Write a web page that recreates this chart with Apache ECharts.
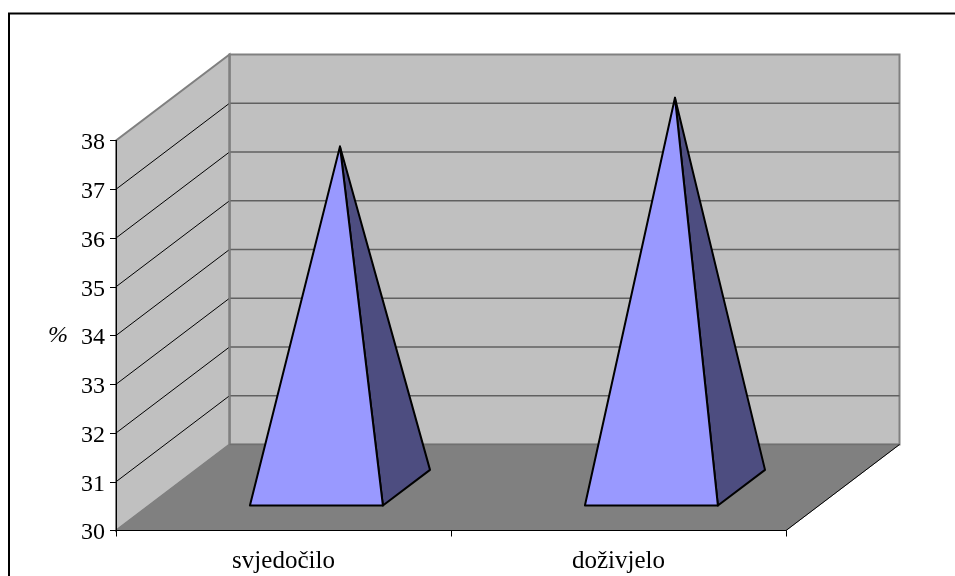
<!DOCTYPE html>
<html>
<head>
<meta charset="utf-8">
<style>html,body{margin:0;padding:0;background:#fff}#c{width:955px;height:576px}</style>
<script src="https://cdn.jsdelivr.net/npm/echarts@6/dist/echarts.min.js"></script>
</head>
<body>
<div id="c"></div>
<script>
const categories = ['svjedočilo', 'doživjelo'];
const values = [37, 38];
const axisMin = 30;
const axisMax = 38;
const yUnit = '%';

const DEPTH_X = 113.5, DEPTH_Y = 86;
const WALL = '#C0C0C0', FLOOR = '#808080', WALL_EDGE = '#808080', GRID_BACK = '#606060';
const FRONT = '#9999FF', SIDE = '#4D4D80';
const FONT = '"Liberation Serif"';
const BASE_WIDTH = 0.397, DEPTH_NEAR = 0.29, DEPTH_FAR = 0.705;

const ticks = [];
for (let v = axisMin; v <= axisMax; v++) ticks.push(v);

function renderRoom(params, api) {
  const cs = params.coordSys;
  const L = cs.x, R = cs.x + cs.width;
  const yB = api.coord([0, axisMin])[1], yT = api.coord([0, axisMax])[1];
  const bL = L + DEPTH_X, bR = R + DEPTH_X;
  const ch = [];
  const poly = (pts, fill, stroke, w) => ch.push({
    type: 'polygon', shape: { points: pts },
    style: { fill: fill, stroke: stroke, lineWidth: w }
  });
  const line = (x1, y1, x2, y2, stroke, w) => ch.push({
    type: 'line', shape: { x1, y1, x2, y2 },
    style: { stroke: stroke, lineWidth: w, fill: null }
  });
  poly([[bL, yB - DEPTH_Y], [bR, yB - DEPTH_Y], [bR, yT - DEPTH_Y], [bL, yT - DEPTH_Y]], WALL, WALL_EDGE, 2);
  poly([[L, yB], [bL, yB - DEPTH_Y], [bL, yT - DEPTH_Y], [L, yT]], WALL, WALL_EDGE, 2);
  poly([[L, yB], [R, yB], [bR, yB - DEPTH_Y], [bL, yB - DEPTH_Y]], FLOOR, FLOOR, 1);
  ticks.slice(1, -1).forEach(v => {
    const y = api.coord([0, v])[1];
    line(L, y, bL, y - DEPTH_Y, '#000000', 1);
    line(bL, y - DEPTH_Y, bR, y - DEPTH_Y, GRID_BACK, 1.6);
  });
  line(bL, yB - DEPTH_Y, bL, yT - DEPTH_Y, WALL_EDGE, 2);
  line(bL, yB - DEPTH_Y, bR, yB - DEPTH_Y, '#707070', 1.6);
  line(R, yB, bR, yB - DEPTH_Y, '#000000', 1);
  return { type: 'group', children: ch };
}

function renderPyramid(params, api) {
  const cat = api.value(0), val = api.value(1);
  const band = api.size([1, 0])[0];
  const cx = api.coord([cat, axisMin])[0];
  const y0 = api.coord([cat, axisMin])[1];
  const half = band * BASE_WIDTH / 2;
  const near = [cx + DEPTH_NEAR * DEPTH_X, y0 - DEPTH_NEAR * DEPTH_Y];
  const far = [cx + DEPTH_FAR * DEPTH_X, y0 - DEPTH_FAR * DEPTH_Y];
  const mid = DEPTH_NEAR / 2 + DEPTH_FAR / 2;
  const apex = [cx + mid * DEPTH_X, api.coord([cat, val])[1] - mid * DEPTH_Y];
  const stroke = { stroke: '#000000', lineWidth: 2, lineJoin: 'round' };
  return {
    type: 'group',
    children: [
      { type: 'polygon', shape: { points: [[near[0] + half, near[1]], [far[0] + half, far[1]], apex] }, style: Object.assign({ fill: SIDE }, stroke) },
      { type: 'polygon', shape: { points: [[near[0] - half, near[1]], [near[0] + half, near[1]], apex] }, style: Object.assign({ fill: FRONT }, stroke) }
    ]
  };
}

const chart = echarts.init(document.getElementById('c'), null, { renderer: 'canvas' });
chart.setOption({
  animation: false,
  backgroundColor: '#ffffff',
  grid: { left: 116, top: 140.5, width: 670, height: 390, containLabel: false },
  xAxis: {
    type: 'category', data: categories, z: 10,
    axisLine: { show: true, lineStyle: { color: '#000', width: 1 } },
    axisTick: { show: true, alignWithLabel: false, length: 6, lineStyle: { color: '#000', width: 1 } },
    axisLabel: { fontFamily: FONT, fontSize: 25, color: '#000', margin: 18 },
    splitLine: { show: false }
  },
  yAxis: {
    type: 'value', min: axisMin, max: axisMax, interval: 1, z: 10,
    name: yUnit, nameLocation: 'middle', nameRotate: 0, nameGap: 48,
    nameTextStyle: { fontFamily: FONT, fontSize: 24, fontStyle: 'italic', color: '#000' },
    axisLine: { show: true, lineStyle: { color: '#000', width: 1 } },
    axisTick: { show: true, length: 6, lineStyle: { color: '#000', width: 1 } },
    axisLabel: { fontFamily: FONT, fontSize: 24, color: '#000', margin: 11, verticalAlign: 'top', lineHeight: 5 },
    splitLine: { show: false }
  },
  graphic: [
    { type: 'polyline', z: 20, shape: { points: [[9, 576], [9, 13.5], [955, 13.5]] }, style: { stroke: '#000', lineWidth: 2, fill: null } }
  ],
  series: [
    { type: 'custom', z: 2, clip: false, silent: true, data: [[0, axisMin]], renderItem: renderRoom },
    { type: 'custom', z: 3, clip: false, silent: true, data: values.map((v, i) => [i, v]), encode: { x: 0, y: 1 }, renderItem: renderPyramid }
  ]
});
</script>
</body>
</html>
